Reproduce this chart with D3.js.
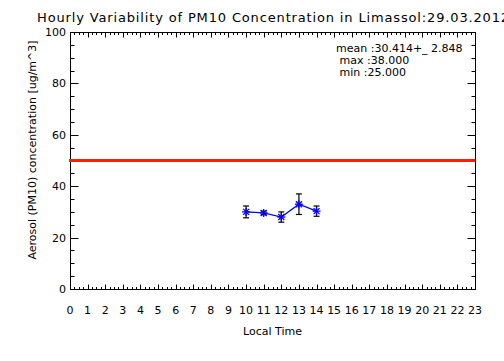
<!DOCTYPE html>
<html>
<head>
<meta charset="utf-8">
<script src="https://cdn.jsdelivr.net/npm/d3@7"></script>
<style>
  body { margin: 0; background: #fff; }
  text { font-family: "DejaVu Sans", sans-serif; fill: #000; }
</style>
</head>
<body>
<script>
const hours = [10, 11, 12, 13, 14];
const pm10 = [30.0, 29.6, 28.0, 33.0, 30.3];
const errs = [2.3, 0.7, 2.0, 4.0, 2.0];
const limit = 50;
const xTicks = d3.range(0, 24);
const yTicks = [0, 20, 40, 60, 80, 100];
const stats = ['mean :30.414+_ 2.848', ' max :38.000', ' min :25.000'];

const width = 504;
const height = 361;
const plotL = 70, plotR = 475, plotT = 32, plotB = 289;

const svg = d3.select('body')
                .append('svg')
                .attr('width', width)
                .attr('height', height);

const xScale = d3.scaleLinear().domain([0, 23]).range([plotL, plotR]);
const yScale = d3.scaleLinear().domain([0, 100]).range([plotB, plotT]);

// frame
svg.append('rect')
    .attr('x', plotL + 0.5).attr('y', plotT + 0.5)
    .attr('width', plotR - plotL).attr('height', plotB - plotT)
    .attr('fill', 'none').attr('stroke', '#000').attr('stroke-width', 1);

// x axis, bottom + top, majors every hour, 4 minor intervals
const xMinor = d3.range(0, 23.001, 0.25);
const xMajorLen = 5, xMinorLen = 2.5;
[plotB, plotT].forEach((yy, k) => {
    const dir = k === 0 ? -1 : 1;
    svg.append('g').selectAll('line')
        .data(xMinor)
        .enter().append('line')
        .attr('x1', d => Math.round(xScale(d)) + 0.5).attr('x2', d => Math.round(xScale(d)) + 0.5)
        .attr('y1', yy + 0.5)
        .attr('y2', d => yy + 0.5 + dir * (Math.abs(d - Math.round(d)) < 1e-6 ? xMajorLen : xMinorLen))
        .attr('stroke', '#000').attr('stroke-width', 1);
});

svg.append('g').selectAll('text')
    .data(xTicks)
    .enter().append('text')
    .attr('x', d => xScale(d))
    .attr('y', 314)
    .attr('text-anchor', 'middle')
    .style('font-size', '11px')
    .text(d => d);

// y axis, left + right, majors every 20, minors every 5
const yMinor = d3.range(0, 100.001, 5);
const yMajorLen = 8, yMinorLen = 4;
[plotL, plotR].forEach((xx, k) => {
    const dir = k === 0 ? 1 : -1;
    svg.append('g').selectAll('line')
        .data(yMinor)
        .enter().append('line')
        .attr('y1', d => Math.round(yScale(d)) + 0.5).attr('y2', d => Math.round(yScale(d)) + 0.5)
        .attr('x1', xx + 0.5)
        .attr('x2', d => xx + 0.5 + dir * (d % 20 === 0 ? yMajorLen : yMinorLen))
        .attr('stroke', '#000').attr('stroke-width', 1);
});

svg.append('g').selectAll('text')
    .data(yTicks)
    .enter().append('text')
    .attr('x', 66)
    .attr('y', d => yScale(d) + 4)
    .attr('text-anchor', 'end')
    .style('font-size', '11px')
    .text(d => d);

// limit line
svg.append('line')
    .attr('x1', plotL - 1).attr('x2', plotR)
    .attr('y1', yScale(limit)).attr('y2', yScale(limit))
    .attr('stroke', '#ff2000').attr('stroke-width', 3);

// error bars
const eb = svg.append('g').attr('stroke', '#000').attr('stroke-width', 1.2);
hours.forEach((h, i) => {
    const x = xScale(h);
    const y1 = yScale(pm10[i] - errs[i]), y2 = yScale(pm10[i] + errs[i]);
    eb.append('line').attr('x1', x).attr('x2', x).attr('y1', y1).attr('y2', y2);
    eb.append('line').attr('x1', x - 3).attr('x2', x + 3).attr('y1', y1).attr('y2', y1);
    eb.append('line').attr('x1', x - 3).attr('x2', x + 3).attr('y1', y2).attr('y2', y2);
});

// data line
svg.append('path')
    .datum(hours.map((h, i) => [h, pm10[i]]))
    .attr('d', d3.line().x(d => xScale(d[0])).y(d => yScale(d[1])))
    .attr('fill', 'none').attr('stroke', '#0000ff').attr('stroke-width', 1.3);

// asterisk markers
const star = svg.append('g').attr('stroke', '#0000ff').attr('stroke-width', 1.3);
hours.forEach((h, i) => {
    const x = xScale(h), y = yScale(pm10[i]), r = 4;
    star.append('line').attr('x1', x - r).attr('x2', x + r).attr('y1', y).attr('y2', y);
    star.append('line').attr('x1', x).attr('x2', x).attr('y1', y - r).attr('y2', y + r);
    star.append('line').attr('x1', x - r * 0.75).attr('x2', x + r * 0.75).attr('y1', y - r * 0.75).attr('y2', y + r * 0.75);
    star.append('line').attr('x1', x - r * 0.75).attr('x2', x + r * 0.75).attr('y1', y + r * 0.75).attr('y2', y - r * 0.75);
});

// stats
svg.append('g').selectAll('text')
    .data(stats)
    .enter().append('text')
    .attr('x', 336)
    .attr('y', (d, i) => 52 + i * 12)
    .attr('xml:space', 'preserve')
    .style('white-space', 'pre')
    .style('font-size', '11px')
    .text(d => d);

// titles
svg.append('text')
    .attr('x', 37).attr('y', 22)
    .style('font-size', '13px')
    .style('letter-spacing', '0.85px')
    .text('Hourly Variability of PM10 Concentration in Limassol:29.03.2012');

svg.append('text')
    .attr('x', (plotL + plotR) / 2).attr('y', 335)
    .attr('text-anchor', 'middle')
    .style('font-size', '11px')
    .text('Local Time');

svg.append('text')
    .attr('transform', 'translate(36, 150) rotate(-90)')
    .attr('text-anchor', 'middle')
    .style('font-size', '11px')
    .text('Aerosol (PM10) concentration [ug/m^3]');
</script>
</body>
</html>
